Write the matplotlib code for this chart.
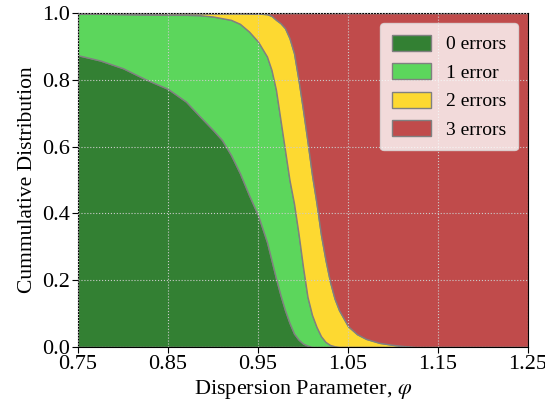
import numpy as np
import matplotlib
matplotlib.use('Agg')
import matplotlib.pyplot as plt

plt.rcParams['font.family'] = 'Liberation Serif'
plt.rcParams['mathtext.fontset'] = 'stix'

# dispersion parameter grid
phi = [0.75, 0.775, 0.80, 0.825, 0.85, 0.87, 0.885, 0.90, 0.91, 0.92, 0.93,
       0.94, 0.95, 0.96, 0.965, 0.97, 0.975, 0.98, 0.985, 0.99, 0.995, 1.00,
       1.005, 1.01, 1.015, 1.02, 1.025, 1.03, 1.035, 1.04, 1.05, 1.06, 1.07,
       1.085, 1.10, 1.11, 1.125, 1.25]

# cumulative fraction with at most k errors
cdf0 = [0.874, 0.858, 0.835, 0.802, 0.773, 0.735, 0.692, 0.650, 0.620, 0.575, 0.520,
        0.455, 0.395, 0.314, 0.260, 0.205, 0.155, 0.110, 0.072, 0.040, 0.022, 0.010,
        0.004, 0.0, 0.0, 0.0, 0.0, 0.0, 0.0, 0.0, 0.0, 0.0, 0.0,
        0.0, 0.0, 0.0, 0.0, 0.0]
cdf1 = [0.998, 0.998, 0.997, 0.996, 0.995, 0.995, 0.994, 0.990, 0.985, 0.980, 0.968,
        0.945, 0.915, 0.870, 0.830, 0.770, 0.680, 0.590, 0.500, 0.430, 0.340, 0.240,
        0.150, 0.096, 0.060, 0.032, 0.015, 0.006, 0.002, 0.0, 0.0, 0.0, 0.0,
        0.0, 0.0, 0.0, 0.0, 0.0]
cdf2 = [1.0, 1.0, 1.0, 1.0, 1.0, 1.0, 1.0, 1.0, 1.0, 1.0, 1.0,
        0.9995, 0.999, 0.997, 0.992, 0.980, 0.970, 0.955, 0.925, 0.880, 0.800, 0.710,
        0.615, 0.515, 0.430, 0.335, 0.260, 0.195, 0.145, 0.110, 0.062, 0.038, 0.024,
        0.012, 0.006, 0.003, 0.0, 0.0]

labels = ['0 errors', '1 error', '2 errors', '3 errors']
colors = ['#338033', '#5cd65c', '#fdd931', '#c04b4b']

fig = plt.figure(figsize=(5.45, 4.11), dpi=100)
ax = fig.add_axes([0.143, 0.156, 0.826, 0.812])

x = np.array(phi)
bounds = [np.zeros_like(x), np.array(cdf0), np.array(cdf1), np.array(cdf2), np.ones_like(x)]
for i in range(4):
    ax.fill_between(x, bounds[i], bounds[i + 1], facecolor=colors[i],
                    edgecolor='gray', lw=1.0, label=labels[i], zorder=1)

ax.set_xlim(0.75, 1.25)
ax.set_ylim(0, 1)
ax.set_xticks([0.75, 0.85, 0.95, 1.05, 1.15, 1.25])
ax.set_yticks([0.0, 0.2, 0.4, 0.6, 0.8, 1.0])
ax.tick_params(labelsize=16, length=4, pad=1.5)
ax.grid(True, ls=':', color='#cccccc', lw=0.8, zorder=2)
ax.set_axisbelow(False)

ax.set_xlabel(r'Dispersion Parameter, $\varphi$', fontsize=16, labelpad=3)
ax.set_ylabel('Cummulative Distribution', fontsize=15.5, labelpad=4)

leg = ax.legend(loc='upper right', fontsize=14, fancybox=True, framealpha=0.8,
                handlelength=2.0, handleheight=0.9, borderpad=0.6, labelspacing=0.5)
leg.get_frame().set_edgecolor('#dddddd')

fig.savefig('out.png', dpi=100)
